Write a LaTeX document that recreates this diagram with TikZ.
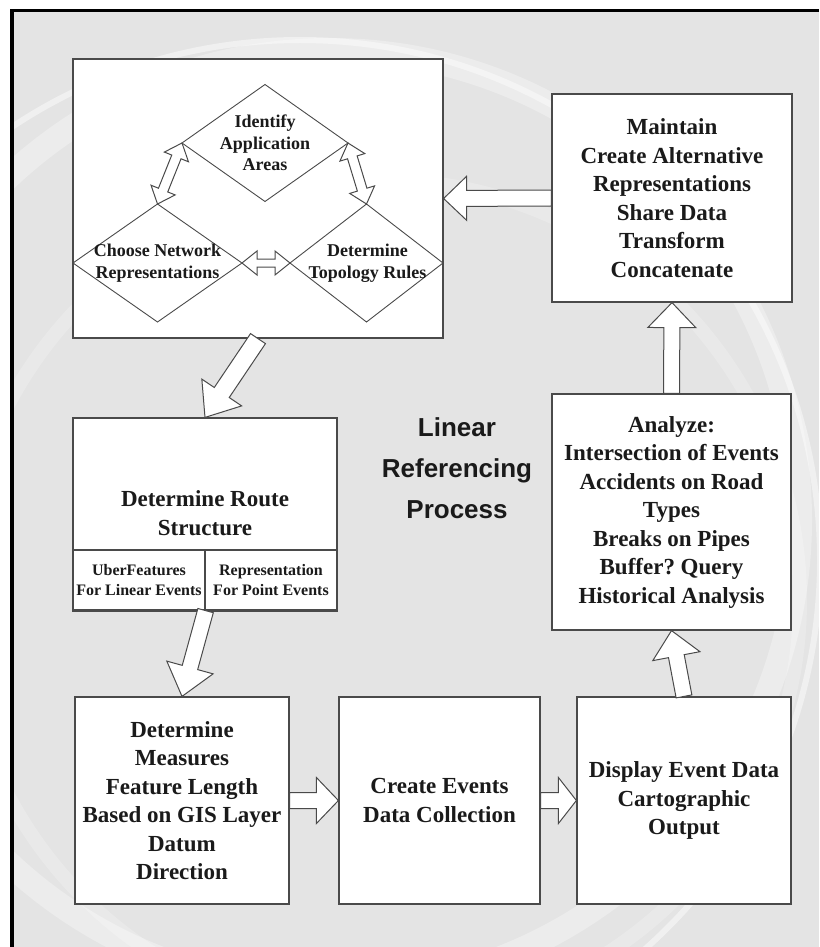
\documentclass[tikz,border=0pt]{standalone}
\usepackage{fontspec}
\setmainfont{Liberation Serif}
\newfontfamily\titlefont{Liberation Sans}
\usetikzlibrary{shapes.geometric,calc,positioning}
\definecolor{Ink}{HTML}{1A1A1A}
\definecolor{Edge}{HTML}{4A4A4A}
\definecolor{Back}{HTML}{E4E4E4}
\frenchspacing

% hollow block arrow: tail, tip, head length, head half width, shaft half width
\newcommand\fatarrow[5]{%
  \coordinate (fa-h) at ($(#2)!#3!(#1)$);
  \draw[blockarrow] ($(#1)!#5!90:(#2)$) -- ($(fa-h)!#5!90:(#2)$) -- ($(fa-h)!#4!90:(#2)$) -- (#2)
    -- ($(fa-h)!#4!-90:(#2)$) -- ($(fa-h)!#5!-90:(#2)$) -- ($(#1)!#5!-90:(#2)$) -- cycle;}
% same, with a head at both ends
\newcommand\fatbiarrow[5]{%
  \coordinate (fb-a) at ($(#1)!#3!(#2)$);
  \coordinate (fb-b) at ($(#2)!#3!(#1)$);
  \draw[blockarrow] (#1) -- ($(fb-a)!#4!90:(#2)$) -- ($(fb-a)!#5!90:(#2)$) -- ($(fb-b)!#5!90:(#2)$)
    -- ($(fb-b)!#4!90:(#2)$) -- (#2) -- ($(fb-b)!#4!-90:(#2)$) -- ($(fb-b)!#5!-90:(#2)$)
    -- ($(fb-a)!#5!-90:(#2)$) -- ($(fb-a)!#4!-90:(#2)$) -- cycle;}

\begin{document}
\begin{tikzpicture}[x=1pt,y=-1pt,
  box/.style={draw=Edge,fill=white,line width=1.2pt,inner sep=0pt,align=center,text=Ink,
    font=\bfseries\fontsize{23}{28.5}\selectfont},
  cell/.style={box,font=\bfseries\fontsize{16}{20}\selectfont},
  dia/.style={shape=diamond,draw=Edge,line width=0.9pt,inner sep=0pt,outer sep=0pt},
  diatext/.style={align=center,text=Ink,inner sep=0pt,font=\bfseries\fontsize{18}{21.5}\selectfont},
  blockarrow/.style={draw=Edge,fill=white,line width=1pt,line join=miter}]
  \useasboundingbox (0,0) rectangle (819,947);
  % backdrop and frame
  \fill[white] (0,0) rectangle (819,947);
  \fill[Back] (14,12) rectangle (819,947);
  \begin{scope}
    \clip (14,12) rectangle (819,947);
    \draw[white,opacity=.3,line width=24pt] (330,520) circle[radius=470pt];
    \draw[white,opacity=.45,line width=6pt] (300,560) circle[radius=520pt];
    \draw[white,opacity=.22,line width=14pt] (380,600) circle[radius=420pt];
  \end{scope}
  \fill[black] (10,9) rectangle (14,947);
  \fill[black] (10,9) rectangle (819,12);

  % boxes
  \node[box,minimum width=370pt,minimum height=279pt] (network) at (258,198.5) {};
  \node[box,minimum width=240pt,minimum height=208pt] (maintain) at (672,198)
    {Maintain\\Create Alternative\\Representations\\Share Data\\Transform\\Concatenate};
  \node[box,minimum width=239pt,minimum height=236pt] (analyze) at (671.5,512)
    {Analyze:\\Intersection of Events\\Accidents on Road\\Types\\Breaks on Pipes\\Buffer? Query\\Historical Analysis};
  \node[box,minimum width=214pt,minimum height=207pt] (display) at (684,800.5)
    {Display Event Data\\Cartographic\\Output};
  \node[box,minimum width=201pt,minimum height=207pt] (create) at (439.5,800.5)
    {Create Events\\Data Collection};
  \node[box,minimum width=214pt,minimum height=207pt] (measures) at (182,800.5)
    {Determine\\Measures\\Feature Length\\Based on GIS Layer\\Datum\\Direction};
  \node[box,minimum width=264pt,minimum height=132pt] (route) at (205,484) {};
  \node[box,draw=none,fill=none] (routetext) at ([yshift=-29pt]route.center) {Determine Route\\Structure};
  \node[cell,minimum width=132pt,minimum height=60pt] (uber) at (139,580) {UberFeatures\\For Linear Events};
  \node[cell,minimum width=132pt,minimum height=60pt] (pointrep) at (271,580) {Representation\\For Point Events};
  \draw[Edge,line width=2.5pt] (uber.south west) -- (pointrep.south east);

  % diamonds
  \node[dia,minimum width=166pt,minimum height=117pt] (identify) at (265,143) {};
  \node[dia,minimum width=169pt,minimum height=118pt] (choose) at (157.5,263) {};
  \node[dia,minimum width=153pt,minimum height=118pt] (topology) at (366.5,263) {};
  \node[diatext] (identifytext) at (identify) {Identify\\Application\\Areas};
  \node[diatext] (choosetext) at (choose) {Choose Network\\Representations};
  \node[diatext] (topologytext) at ([xshift=1pt]topology) {Determine\\Topology Rules};

  \node[align=center,text=Ink,font=\titlefont\bfseries\fontsize{26}{41}\selectfont] (title) at (457,468)
    {Linear\\Referencing\\Process};

  % arrows
  \fatbiarrow{choose.north}{identify.west}{15pt}{13pt}{5pt}
  \fatbiarrow{identify.east}{topology.north}{15pt}{13pt}{5pt}
  \fatbiarrow{choose.east}{topology.west}{15pt}{12pt}{4pt}
  \fatarrow{maintain.west}{network.east}{23pt}{22pt}{8pt}
  \fatarrow{analyze.north}{maintain.south}{25pt}{24pt}{8pt}
  \fatarrow{display.north}{analyze.south}{26pt}{24pt}{8pt}
  \fatarrow{measures.east}{create.west}{22pt}{23pt}{8pt}
  \fatarrow{create.east}{display.west}{18pt}{23pt}{8pt}
  \fatarrow{uber.south east}{measures.north}{30pt}{24pt}{8pt}
  \fatarrow{network.south}{route.north}{30pt}{24pt}{9pt}
\end{tikzpicture}
\end{document}
